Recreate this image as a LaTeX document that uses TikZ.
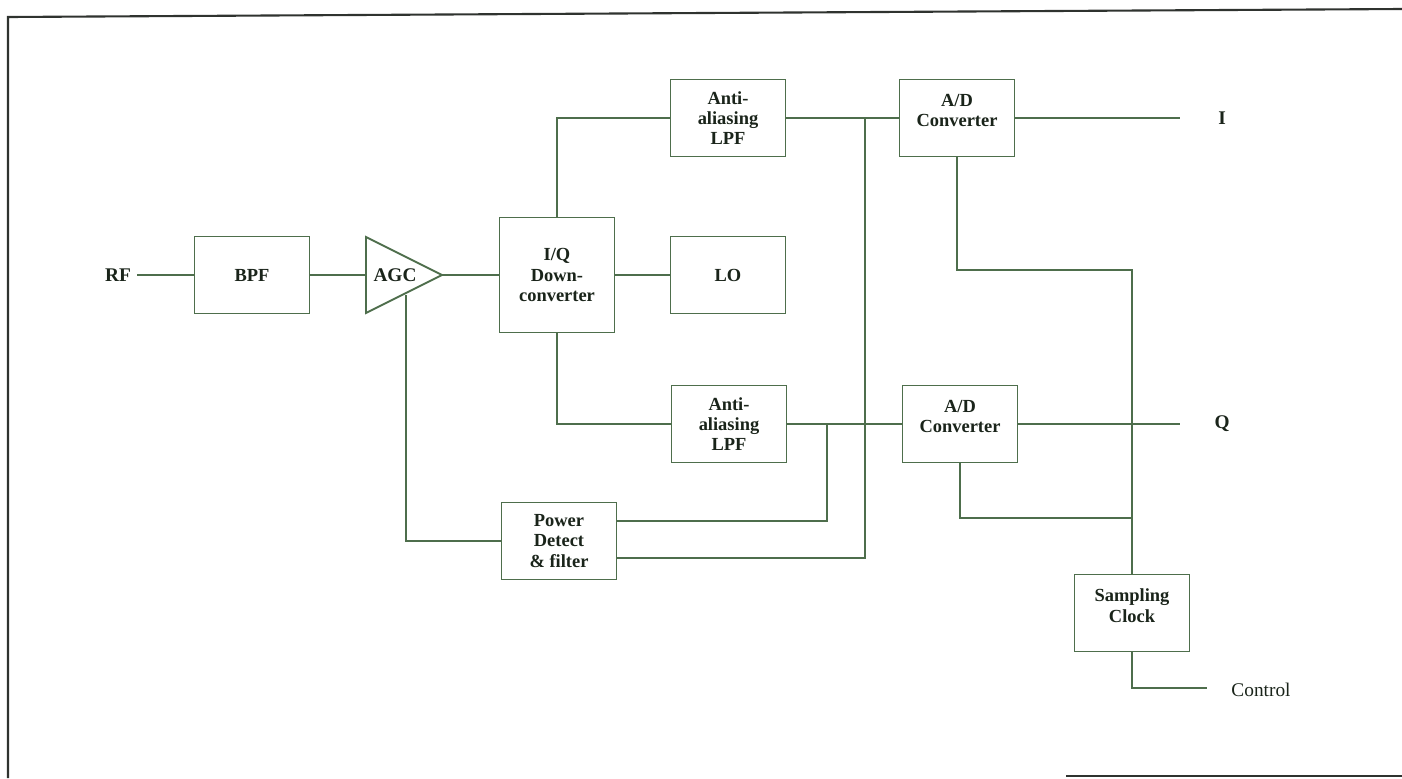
\documentclass[tikz,border=0pt]{standalone}
\usepackage{fontspec}
\setmainfont{Liberation Serif}
\usetikzlibrary{calc}
\definecolor{wiregreen}{HTML}{4E6E4C}
\definecolor{inkdark}{HTML}{1A241A}
\definecolor{framegray}{HTML}{2F332F}

\begin{document}
\begin{tikzpicture}[
    x=0.02cm, y=-0.02cm,
    block/.style={draw=wiregreen, line width=1.1pt, fill=white, minimum width=2.3cm,
                  minimum height=1.54cm, align=center, inner sep=1pt,
                  font=\fontsize{10.5}{11.5}\selectfont\bfseries, text=inkdark},
    tallblock/.style={block, minimum height=2.3cm},
    wire/.style={draw=wiregreen, line width=0.9pt},
    port/.style={font=\fontsize{11}{12}\selectfont\bfseries, text=inkdark},
    plainport/.style={font=\fontsize{11}{12}\selectfont, text=inkdark}
]
\useasboundingbox (0,0) rectangle (1402,778);

% --- frame ---
\draw[framegray, line width=1.2pt] (8,778) -- (8,17) -- (1402,9);
\draw[framegray, line width=1.2pt] (1066,776) -- (1402,776);

% --- front end ---
\node[port] (rf) at (118,275) {RF};
\node[block] (bpf) at (252,275) {BPF};
\draw[wire, line width=1.1pt] (366,237) -- (442,275) -- (366,313) -- cycle;
\node[port] (agc) at (395,275) {AGC};
\coordinate (agcin)  at (366,275);
\coordinate (agcout) at (442,275);
\coordinate (agcbot) at (406,295);
\node[tallblock] (iq) at (557,275) {I/Q\\Down-\\converter};
\node[block] (lo) at (728,275) {LO};

% --- I and Q branches ---
\node[block] (lpfi) at (728,118) {Anti-\\aliasing\\LPF};
\node[block] (lpfq) at (729,424) {Anti-\\aliasing\\LPF};
\node[block] (adci) at (957,118) {A/D\\Converter\\[-3pt]};
\node[block] (adcq) at (960,424) {A/D\\Converter\\[-3pt]};
\node[block] (power) at (559,541) {Power\\Detect\\\& filter};
\node[block] (clock) at (1132,613) {Sampling\\Clock\\[-3pt]};

\node[port] (iport) at (1222,118) {I};
\node[port] (qport) at (1222,424) {Q};
\node[plainport] (ctrl) at (1261,690) {Control};
\coordinate (iend) at (1180,118);
\coordinate (qend) at (1180,424);
\coordinate (cend) at (1207,688);
\coordinate (tapi) at (865,118);
\coordinate (tapq) at (827,424);
\coordinate (clki) at (1132,270);
\coordinate (clkq) at (1132,518);

\draw[wire] (rf.east) -- (bpf.west);
\draw[wire] (bpf.east) -- (agcin);
\draw[wire] (agcout) -- (iq.west);
\draw[wire] (iq.east) -- (lo.west);
\draw[wire] (iq.north) |- (lpfi.west);
\draw[wire] (iq.south) |- (lpfq.west);
\draw[wire] (lpfi.east) -- (adci.west);
\draw[wire] (lpfq.east) -- (adcq.west);
\draw[wire] (adci.east) -- (iend);
\draw[wire] (adcq.east) -- (qend);

% clock and gain control
\draw[wire] (adci.south) |- (clki) -- (clock.north);
\draw[wire] (adcq.south) |- (clkq);
\draw[wire] (clock.south) |- (cend);
\draw[wire] (agcbot) |- (power.west);
\draw[wire] ($(power.east)+(0,-20)$) -| (tapq);
\draw[wire] ($(power.east)+(0,17)$) -| (tapi);

\end{tikzpicture}
\end{document}
